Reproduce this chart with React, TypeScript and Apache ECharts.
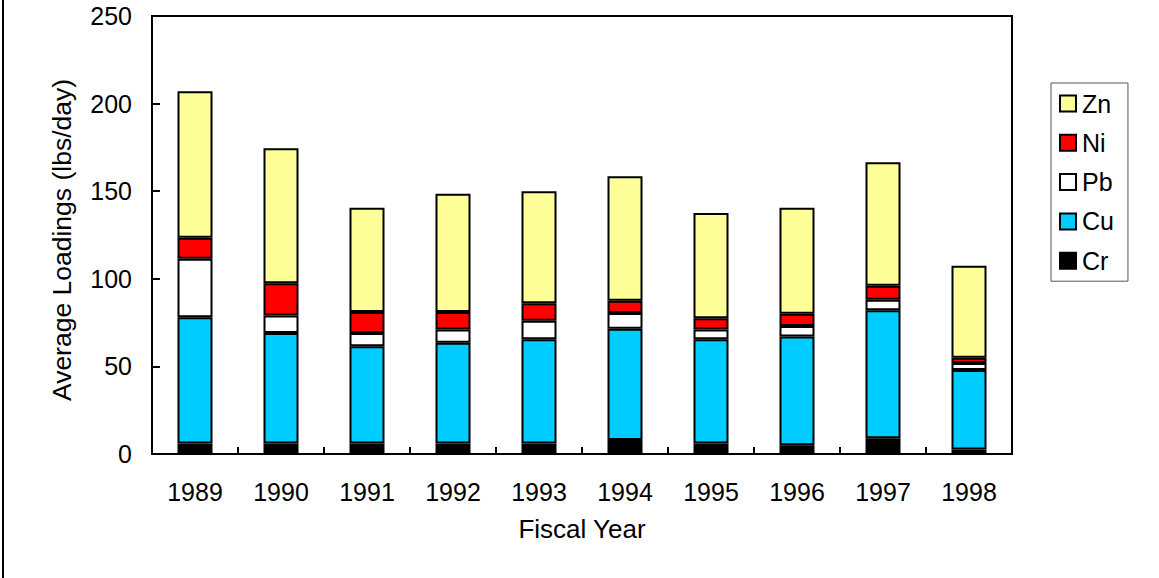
import React, { useEffect, useRef } from "react";
import * as echarts from "echarts";

const years = ["1989", "1990", "1991", "1992", "1993", "1994", "1995", "1996", "1997", "1998"];
const cr = [6, 6, 6, 6, 6, 8, 6, 5, 9, 2.5];
const cu = [72, 63, 55.5, 57.5, 59.5, 63.5, 59.5, 62, 73, 45.5];
const pb = [33.5, 10, 7.5, 7.5, 10.5, 9, 5.5, 6, 6, 4];
const ni = [12, 18.5, 12, 10, 10, 7, 6.5, 7, 8, 3];
const zn = [83.5, 77, 59.5, 67.5, 64, 71, 60, 60.5, 70.5, 52.5];
const yTicks = [0, 50, 100, 150, 200, 250];

const FONT = 'Arial, "Liberation Sans", sans-serif';

export default function App() {
  const ref = useRef<HTMLDivElement>(null);
  useEffect(() => {
    document.body.style.margin = "0";
    if (!ref.current) return;
    const chart = echarts.init(ref.current, null, { renderer: "svg" });
    const mk = (name: string, data: number[], color: string) => ({
      name,
      type: "bar",
      stack: "total",
      data,
      barWidth: 35,
      itemStyle: { color, borderColor: "#000", borderWidth: 2 },
    });
    chart.setOption({
      animation: false,
      textStyle: { fontFamily: FONT, color: "#000" },
      grid: {
        left: 152,
        right: 147,
        top: 16,
        bottom: 124,
        show: true,
        borderColor: "#000",
        borderWidth: 2,
        backgroundColor: "transparent",
      },
      legend: {
        orient: "vertical",
        left: 1051,
        top: 83,
        width: 76,
        padding: [8, 14, 8, 8],
        itemGap: 14.3,
        itemWidth: 16,
        itemHeight: 16,
        icon: "rect",
        borderColor: "#555",
        borderWidth: 1,
        data: ["Zn", "Ni", "Pb", "Cu", "Cr"],
        textStyle: { fontFamily: FONT, fontSize: 25, color: "#000", padding: [0, 0, 0, 1] },
        itemStyle: { borderColor: "#000", borderWidth: 2 },
      },
      xAxis: {
        type: "category",
        data: years,
        name: "Fiscal Year",
        nameLocation: "middle",
        nameGap: 62,
        nameTextStyle: { fontFamily: FONT, fontSize: 26, color: "#000" },
        axisLine: { lineStyle: { color: "#000", width: 2 } },
        axisTick: { show: true, inside: true, length: 7, lineStyle: { color: "#000", width: 2 } },
        axisLabel: { fontFamily: FONT, fontSize: 25, color: "#000", margin: 25 },
      },
      yAxis: {
        type: "value",
        min: yTicks[0],
        max: yTicks[yTicks.length - 1],
        interval: 50,
        axisLine: { show: true, lineStyle: { color: "#000", width: 2 } },
        axisTick: { show: true, inside: true, length: 8, lineStyle: { color: "#000", width: 2 } },
        axisLabel: { fontFamily: FONT, fontSize: 25, color: "#000", margin: 20 },
        splitLine: { show: false },
      },
      graphic: [
        { type: "rect", left: 2, top: 0, shape: { width: 2, height: 578 }, style: { fill: "#000" } },
        {
          type: "text",
          x: 62,
          y: 240,
          rotation: Math.PI / 2,
          style: {
            text: "Average Loadings (lbs/day)",
            fontFamily: FONT,
            fontSize: 26.5,
            fill: "#000",
            align: "center",
            verticalAlign: "middle",
          },
        },
      ],
      series: [
        mk("Cr", cr, "#000000"),
        mk("Cu", cu, "#00CCFF"),
        mk("Pb", pb, "#FFFFFF"),
        mk("Ni", ni, "#FF0000"),
        mk("Zn", zn, "#FFFF99"),
      ],
    });
    return () => chart.dispose();
  }, []);
  return <div ref={ref} style={{ width: 1159, height: 578 }} />;
}
